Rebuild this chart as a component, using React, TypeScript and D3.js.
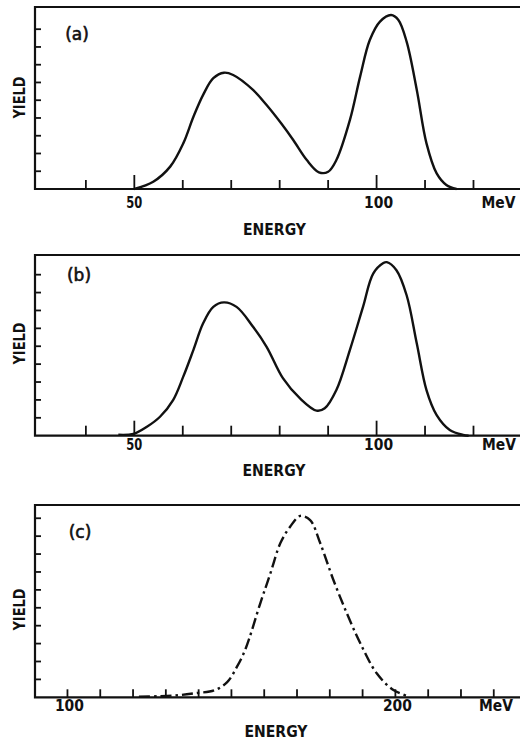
import React from "react";
import * as d3 from "d3";

// Panel (a)
const energyA = [50, 53.9, 57.4, 60.1, 62.2, 64.2, 66.3, 68.5, 70.4, 74.5, 77.3, 80.3, 82.8, 85.6, 88.1, 90, 91.7, 94.5, 96.6, 98.6, 100.7, 103, 104.5, 106.2, 108.3, 110.3, 112.4, 114.4, 116.5];
const yieldA = [0, 0.41, 1.26, 2.57, 4.07, 5.3, 6.24, 6.55, 6.42, 5.58, 4.73, 3.7, 2.76, 1.63, 0.94, 0.97, 1.63, 3.89, 6.33, 8.39, 9.43, 9.8, 9.52, 8.3, 5.58, 2.57, 0.88, 0.23, 0];

// Panel (b)
const energyB = [46.7, 49.8, 52.6, 55.3, 58, 60.1, 62.2, 64.2, 66.3, 68.5, 71.1, 74.5, 77.3, 80.7, 84.2, 87.6, 89.3, 91.7, 94.5, 97.2, 99.3, 101.4, 102.1, 104.1, 106.2, 108.3, 110.3, 112.4, 115.1, 117.9, 119];
const yieldB = [0.05, 0.1, 0.5, 1.06, 1.99, 3.3, 4.8, 6.28, 7.2, 7.45, 7.2, 6.09, 4.97, 3.2, 2.08, 1.4, 1.53, 2.55, 4.8, 7.2, 9.06, 9.65, 9.7, 9.25, 7.85, 5.15, 2.55, 1.15, 0.32, 0.04, 0];

// Panel (c)
const energyC = [121.8, 128, 134, 139.5, 144.7, 148.7, 151.7, 154.3, 158.8, 161.9, 164.9, 167.9, 171, 174, 177.1, 181.1, 185.2, 189.3, 194.3, 199.4, 204];
const yieldC = [0.03, 0.06, 0.12, 0.24, 0.38, 0.85, 1.71, 2.7, 5.25, 6.93, 8.6, 9.53, 10.13, 9.9, 8.6, 6.55, 4.69, 3.02, 1.34, 0.41, 0.05];

const xTicksAB = [40, 50, 60, 70, 80, 90, 100, 110, 120];
const xMajorAB = [50, 100];
const xTicksC = [100, 110, 120, 130, 140, 150, 160, 170, 180, 190, 200, 210, 220, 230];
const xLabelsAB = ["50", "100"];
const xLabelsC = ["100", "200"];
const yTicksAB = [1, 2, 3, 4, 5, 6, 7, 8, 9];
const yTicksC = [1, 2, 3, 4, 5, 6, 7, 8, 9, 10];
const panelLabels = ["(a)", "(b)", "(c)"];

const FONT = "'DejaVu Sans', sans-serif";

type PanelProps = {
  energy: number[];
  yields: number[];
  xDomain: [number, number];
  yMax: number;
  top: number;
  bottom: number;
  xTicks: number[];
  xMajor: number[];
  majorLen: number;
  minorLen: number;
  yTicks: number[];
  xLabels: string[];
  xLabelVals: number[];
  label: string;
  labelPos: [number, number];
  dashed: boolean;
  labelY: number;
  energyY: number;
  yieldY: number;
  energyX: number;
  mevX: number;
};

function Panel(p: PanelProps) {
  const left = 35;
  const right = 520;
  const x = d3.scaleLinear().domain(p.xDomain).range([left, right]);
  const y = d3.scaleLinear().domain([0, p.yMax]).range([p.bottom, p.top]);
  const pts: [number, number][] = p.energy.map((e, i) => [e, p.yields[i]]);
  const line = d3
    .line<[number, number]>()
    .x((d) => x(d[0]))
    .y((d) => y(d[1]))
    .curve(d3.curveCatmullRom.alpha(0.5));
  return (
    <g>
      <path
        d={`M${right},${p.top}H${left}V${p.bottom}H${right}`}
        fill="none"
        stroke="#111"
        strokeWidth={2.2}
      />
      {p.yTicks.map((t) => (
        <line key={"y" + t} x1={left} x2={left + 6} y1={y(t)} y2={y(t)} stroke="#111" strokeWidth={1.8} />
      ))}
      {p.xTicks.map((t) => {
        const len = p.xMajor.includes(t) ? p.majorLen : p.minorLen;
        return (
          <line key={"x" + t} x1={x(t)} x2={x(t)} y1={p.bottom} y2={p.bottom - len} stroke="#111" strokeWidth={1.8} />
        );
      })}
      <path
        d={line(pts) || ""}
        fill="none"
        stroke="#111"
        strokeWidth={2.4}
        strokeDasharray={p.dashed ? "11,4,2.5,4" : undefined}
        strokeLinecap="butt"
        strokeLinejoin="round"
      />
      {p.xLabels.map((s, i) => (
        <text
          key={"l" + s}
          x={x(p.xLabelVals[i]) + (s.length === 3 ? 2 : 0)}
          y={p.labelY}
          textAnchor="middle"
          dominantBaseline="central"
          fontFamily={FONT}
          fontWeight="bold"
          fontSize={16}
          fill="#111"
          textLength={s.length === 3 ? 29 : 16}
          lengthAdjust="spacingAndGlyphs"
        >
          {s}
        </text>
      ))}
      <text
        x={p.mevX}
        y={p.labelY}
        textAnchor="middle"
        dominantBaseline="central"
        fontFamily={FONT}
        fontWeight="bold"
        fontSize={16}
        fill="#111"
        textLength={34}
        lengthAdjust="spacingAndGlyphs"
      >
        MeV
      </text>
      <text
        x={p.energyX}
        y={p.energyY}
        textAnchor="middle"
        dominantBaseline="central"
        fontFamily={FONT}
        fontWeight="bold"
        fontSize={16}
        fill="#111"
        textLength={63}
        lengthAdjust="spacingAndGlyphs"
      >
        ENERGY
      </text>
      <text
        transform={`translate(20,${p.yieldY}) rotate(-90)`}
        textAnchor="middle"
        dominantBaseline="central"
        fontFamily={FONT}
        fontWeight="bold"
        fontSize={15}
        fill="#111"
        textLength={42}
        lengthAdjust="spacingAndGlyphs"
      >
        YIELD
      </text>
      <text
        x={p.labelPos[0]}
        y={p.labelPos[1]}
        textAnchor="middle"
        dominantBaseline="central"
        fontFamily={FONT}
        fontSize={17}
        fill="#111"
        stroke="#111"
        strokeWidth={0.6}
      >
        {p.label}
      </text>
    </g>
  );
}

export default function App() {
  return (
    <svg
      width={520}
      height={740}
      style={{ position: "absolute", left: 0, top: 0, background: "#fff" }}
    >
      <rect width={520} height={740} fill="#fff" />
      <Panel
        energy={energyA}
        yields={yieldA}
        xDomain={[29.5, 129.6]}
        yMax={10.25}
        top={7}
        bottom={189}
        xTicks={xTicksAB}
        xMajor={xMajorAB}
        majorLen={14}
        minorLen={9}
        yTicks={yTicksAB}
        xLabels={xLabelsAB}
        xLabelVals={xMajorAB}
        label={panelLabels[0]}
        labelPos={[77, 34]}
        dashed={false}
        labelY={202.5}
        energyY={229}
        yieldY={97.5}
        energyX={274.5}
        mevX={498.5}
      />
      <Panel
        energy={energyB}
        yields={yieldB}
        xDomain={[29.5, 129.6]}
        yMax={10.1}
        top={255}
        bottom={435.7}
        xTicks={xTicksAB}
        xMajor={xMajorAB}
        majorLen={15}
        minorLen={10}
        yTicks={yTicksAB}
        xLabels={xLabelsAB}
        xLabelVals={xMajorAB}
        label={panelLabels[1]}
        labelPos={[79, 275]}
        dashed={false}
        labelY={444}
        energyY={470}
        yieldY={343.5}
        energyX={274}
        mevX={499}
      />
      <Panel
        energy={energyC}
        yields={yieldC}
        xDomain={[90.1, 238]}
        yMax={10.74}
        top={505}
        bottom={697.3}
        xTicks={xTicksC}
        xMajor={[]}
        majorLen={8}
        minorLen={8}
        yTicks={yTicksC}
        xLabels={xLabelsC}
        xLabelVals={[100, 200]}
        label={panelLabels[2]}
        labelPos={[80, 531.5]}
        dashed={true}
        labelY={705}
        energyY={731.5}
        yieldY={609.5}
        energyX={276}
        mevX={496}
      />
    </svg>
  );
}
